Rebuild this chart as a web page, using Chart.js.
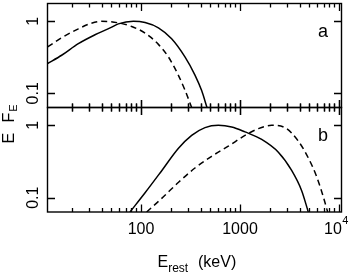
<!DOCTYPE html>
<html><head><meta charset="utf-8">
<script src="https://cdn.jsdelivr.net/npm/chart.js@4.4.0/dist/chart.umd.min.js"></script>
<style>
html,body{margin:0;padding:0;background:#fff;}
#wrap{position:relative;width:355px;height:273px;background:#fff;}
canvas{position:absolute;left:0;top:0;}
</style></head><body>
<div id="wrap"><canvas id="cA" width="355" height="273"></canvas><canvas id="cB" width="355" height="273"></canvas></div>
<script>
// ---- axis ranges and ticks ----
const energyRange = [11.37, 10600];
const fluxRange = [0.0635, 1.76];
const majorTicksX = [100, 1000, 10000];
const minorTicksX = [20, 30, 40, 50, 60, 70, 80, 90, 200, 300, 400, 500, 600, 700, 800, 900, 2000, 3000, 4000, 5000, 6000, 7000, 8000, 9000];
const tickLabelsX = ['100', '1000', '10|4'];
const majorTicksY = [1, 0.1];
const tickLabelsY = ['1', '0.1'];
const panelLabels = ['a', 'b'];

// ---- panel a ----
const aSolidE = [11.4, 15.8, 23.3, 34.3, 50.6, 59.0, 83.7, 110, 150, 204, 278, 351, 410, 464];
const aSolidF = [0.259, 0.337, 0.488, 0.648, 0.827, 0.919, 1.0, 0.959, 0.81, 0.571, 0.32, 0.179, 0.109, 0.0635];
const aDashE = [11.4, 15.8, 23.3, 31.6, 40.0, 59.0, 80.5, 110, 150, 189, 238, 278, 325];
const aDashF = [0.439, 0.590, 0.784, 0.939, 1.0, 0.949, 0.845, 0.684, 0.477, 0.32, 0.179, 0.111, 0.0635];

// ---- panel b ----
const bSolidE = [77.4, 110, 162, 238, 325, 443, 604, 824, 1124, 1656, 2440, 3325, 4198, 4898];
const bSolidF = [0.0635, 0.117, 0.236, 0.478, 0.725, 0.928, 1.0, 0.948, 0.81, 0.638, 0.425, 0.238, 0.125, 0.0635];
const bDashE = [114, 162, 238, 351, 517, 762, 1124, 1532, 2088, 2850, 3884, 4898, 5943, 6943, 7680];
const bDashF = [0.0635, 0.098, 0.162, 0.257, 0.373, 0.515, 0.725, 0.898, 1.0, 0.927, 0.604, 0.354, 0.196, 0.103, 0.0635];

const FONT = '"Liberation Sans", Arial, Helvetica, sans-serif';
const pts = (ex, fy) => ex.map((x, i) => ({x: x, y: fy[i]}));

function makePlugin(idx, isTop, isBottom) {
  return {
    id: 'frame' + idx,
    afterDraw(chart) {
      const ctx = chart.ctx;
      const a = chart.chartArea;
      const sx = chart.scales.x;
      const sy = chart.scales.y;
      const L = a.left, R = a.right, T = a.top, B = a.bottom;
      ctx.save();
      ctx.setLineDash([]);
      ctx.strokeStyle = '#000';
      ctx.fillStyle = '#000';
      // frame
      ctx.lineWidth = 1.4;
      ctx.strokeRect(L, T, R - L, B - T);
      // x ticks
      ctx.lineWidth = 1.3;
      const xTick = (v, len) => {
        const px = Math.round(sx.getPixelForValue(v)) + 0.5;
        ctx.beginPath();
        ctx.moveTo(px, isTop ? T : T - len);
        ctx.lineTo(px, T + len);
        ctx.stroke();
        ctx.beginPath();
        ctx.moveTo(px, isBottom ? B : B + len);
        ctx.lineTo(px, B - len);
        ctx.stroke();
      };
      for (const v of minorTicksX) xTick(v, 4);
      for (const v of majorTicksX) xTick(v, 7.5);
      // y ticks
      for (const v of majorTicksY) {
        const py = Math.round(sy.getPixelForValue(v)) + 0.5;
        ctx.beginPath();
        ctx.moveTo(L, py); ctx.lineTo(L + 7.5, py);
        ctx.moveTo(R, py); ctx.lineTo(R - 7.5, py);
        ctx.stroke();
      }
      // y tick labels (rotated)
      ctx.font = '16px ' + FONT;
      ctx.textAlign = 'center';
      ctx.textBaseline = 'alphabetic';
      majorTicksY.forEach((v, i) => {
        const py = sy.getPixelForValue(v);
        ctx.save();
        ctx.translate(37.5, py);
        ctx.rotate(-Math.PI / 2);
        ctx.fillText(tickLabelsY[i], 0, 0);
        ctx.restore();
      });
      // panel letter
      ctx.font = '18px ' + FONT;
      ctx.textAlign = 'center';
      ctx.fillText(panelLabels[idx], 323, T + 33.5);
      if (isBottom) {
        majorTicksX.forEach((v, i) => {
          const px = sx.getPixelForValue(v);
          const lab = tickLabelsX[i];
          if (lab.indexOf('|') >= 0) {
            const parts = lab.split('|');
            ctx.font = '16px ' + FONT;
            const w1 = ctx.measureText(parts[0]).width;
            ctx.font = '11px ' + FONT;
            const w2 = ctx.measureText(parts[1]).width;
            const x0 = px - 3 - (w1 + w2) / 2;
            ctx.textAlign = 'left';
            ctx.font = '16px ' + FONT;
            ctx.fillText(parts[0], x0, 233.5);
            ctx.font = '11px ' + FONT;
            ctx.fillText(parts[1], x0 + w1 + 0.5, 223.5);
          } else {
            ctx.textAlign = 'center';
            ctx.font = '16px ' + FONT;
            ctx.fillText(lab, px, 233.5);
          }
        });
        // x title
        ctx.textAlign = 'left';
        ctx.font = '16px ' + FONT;
        ctx.fillText('E', 157.5, 267);
        const wE = ctx.measureText('E').width;
        ctx.font = '12px ' + FONT;
        ctx.fillText('rest', 157.5 + wE, 271.5);
        ctx.font = '16px ' + FONT;
        ctx.fillText('(keV)', 198, 267);
      }
      if (isTop) {
        // y title (rotated)
        ctx.save();
        ctx.translate(13.5, 143.5);
        ctx.rotate(-Math.PI / 2);
        ctx.textAlign = 'left';
        ctx.font = '16px ' + FONT;
        ctx.fillText('E', 0, 0);
        ctx.fillText('F', 21, 0);
        const wF = ctx.measureText('F').width;
        ctx.font = '11px ' + FONT;
        ctx.fillText('E', 21 + wF + 1, 3.5);
        ctx.restore();
      }
      ctx.restore();
    }
  };
}

function makeChart(id, idx, solidE, solidF, dashE, dashF, padTop, padBottom, isTop, isBottom) {
  return new Chart(document.getElementById(id), {
    type: 'line',
    data: {
      datasets: [
        {data: pts(solidE, solidF), borderColor: '#000', borderWidth: 1.5, pointRadius: 0, cubicInterpolationMode: 'monotone', fill: false},
        {data: pts(dashE, dashF), borderColor: '#000', borderWidth: 1.5, borderDash: [6, 4], pointRadius: 0, cubicInterpolationMode: 'monotone', fill: false}
      ]
    },
    options: {
      responsive: false,
      animation: false,
      devicePixelRatio: 1,
      events: [],
      layout: {padding: {left: 47.5, right: 13.5, top: padTop, bottom: padBottom}},
      plugins: {legend: {display: false}, tooltip: {enabled: false}},
      scales: {
        x: {type: 'logarithmic', min: energyRange[0], max: energyRange[1], display: false},
        y: {type: 'logarithmic', min: fluxRange[0], max: fluxRange[1], display: false}
      }
    },
    plugins: [makePlugin(idx, isTop, isBottom)]
  });
}

makeChart('cA', 0, aSolidE, aSolidF, aDashE, aDashF, 3.5, 273 - 107.5, true, false);
makeChart('cB', 1, bSolidE, bSolidF, bDashE, bDashF, 107.5, 273 - 212, false, true);
</script>
</body></html>
